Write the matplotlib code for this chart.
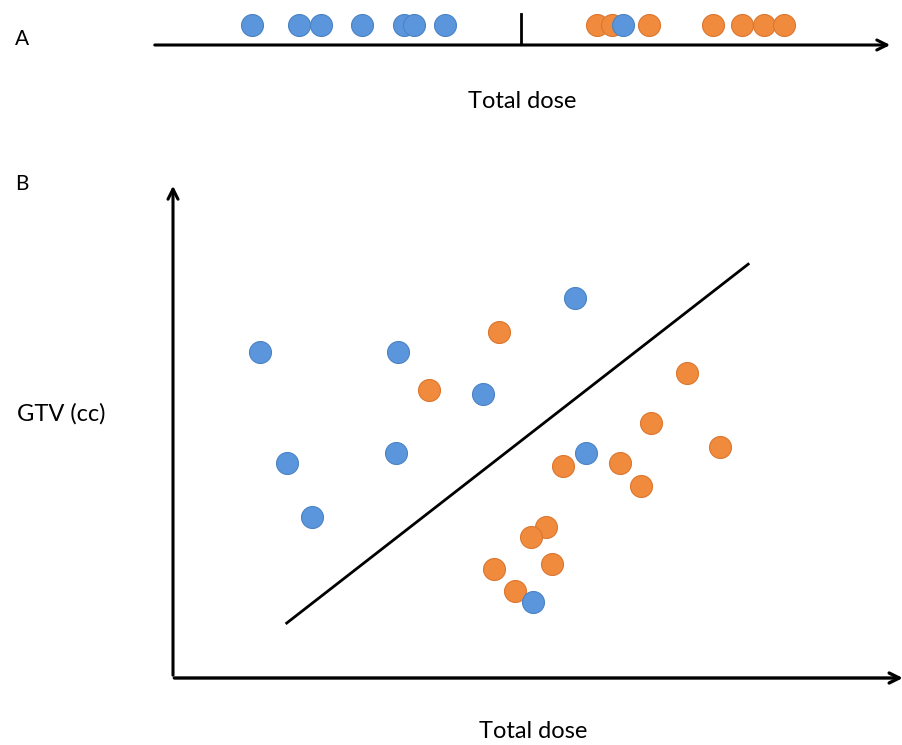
import matplotlib
matplotlib.use("Agg")
import matplotlib.pyplot as plt

plt.rcParams['font.family'] = ['Lato', 'DejaVu Sans']

# panel A: total dose only, one dimension
top_blue = [13.5, 19.8, 22.8, 28.3, 34.0, 35.4, 39.5, 63.6]
top_orange = [60.1, 62.1, 67.1, 75.7, 79.6, 82.6, 85.3]
top_cut = 49.8

# panel B: total dose vs GTV
blue_dose = [11.9, 30.9, 15.6, 30.6, 19.1, 42.5, 55.1, 56.7, 49.4]
blue_gtv = [65.9, 65.9, 43.4, 45.5, 32.5, 57.4, 76.8, 45.5, 15.4]
orange_dose = [35.1, 44.7, 53.5, 61.3, 65.6, 70.5, 75.0, 64.2, 51.2, 49.1, 52.0, 44.0, 46.9]
orange_gtv = [58.2, 69.9, 42.8, 43.4, 51.5, 61.6, 46.7, 38.8, 30.5, 28.5, 23.0, 22.0, 17.6]
line_dose = [15.6, 78.9]
line_gtv = [11.1, 83.6]

BLUE = '#5b96dc'
BLUE_EDGE = '#4a82c4'
ORANGE = '#f08a3c'
ORANGE_EDGE = '#db7630'

W, H = 902, 745
fig = plt.figure(figsize=(W/100, H/100), dpi=100)

def box(x0, y0, x1, y1):
    # pixel box -> figure fraction
    return [x0/W, 1 - y1/H, (x1 - x0)/W, (y1 - y0)/H]

# ---- panel A
axa = fig.add_axes(box(152, 5, 893, 45))
axa.set_xlim(0, 100)
axa.set_ylim(0, 1)
axa.axis('off')
axa.annotate('', xy=(1.0, 0), xytext=(0, 0), xycoords='axes fraction',
             arrowprops=dict(arrowstyle='->', lw=2.2, color='black', mutation_scale=18))
axa.axvline(top_cut, ymin=0, ymax=0.78, color='black', lw=2)
axa.scatter(top_orange, [0.5]*len(top_orange), s=250, c=ORANGE, edgecolors=ORANGE_EDGE,
            linewidths=0.8, zorder=3, clip_on=False)
axa.scatter(top_blue, [0.5]*len(top_blue), s=250, c=BLUE, edgecolors=BLUE_EDGE,
            linewidths=0.8, zorder=4, clip_on=False)

fig.text(22/W, 1 - 39/H, 'A', fontsize=15, ha='center', va='center')
fig.text(522/W, 1 - 101/H, 'Total dose', fontsize=17, ha='center', va='center')

# ---- panel B
ax = fig.add_axes(box(173, 183, 902, 678))
ax.set_xlim(0, 100)
ax.set_ylim(0, 100)
ax.axis('off')
ax.annotate('', xy=(0, 1.0), xytext=(0, 0), xycoords='axes fraction',
            arrowprops=dict(arrowstyle='->', lw=2.2, color='black', mutation_scale=18))
ax.annotate('', xy=(1.005, 0), xytext=(-0.002, 0), xycoords='axes fraction',
            arrowprops=dict(arrowstyle='->', lw=2.4, color='black', mutation_scale=18))
ax.plot(line_dose, line_gtv, color='black', lw=2)
ax.scatter(orange_dose, orange_gtv, s=250, c=ORANGE, edgecolors=ORANGE_EDGE,
           linewidths=0.8, zorder=3)
ax.scatter(blue_dose, blue_gtv, s=250, c=BLUE, edgecolors=BLUE_EDGE,
           linewidths=0.8, zorder=4)

fig.text(22/W, 1 - 184/H, 'B', fontsize=15, ha='center', va='center')
fig.text(61/W, 1 - 414/H, 'GTV (cc)', fontsize=17, ha='center', va='center')
fig.text(533/W, 1 - 731/H, 'Total dose', fontsize=17, ha='center', va='center')

fig.savefig('out.png', dpi=100)
